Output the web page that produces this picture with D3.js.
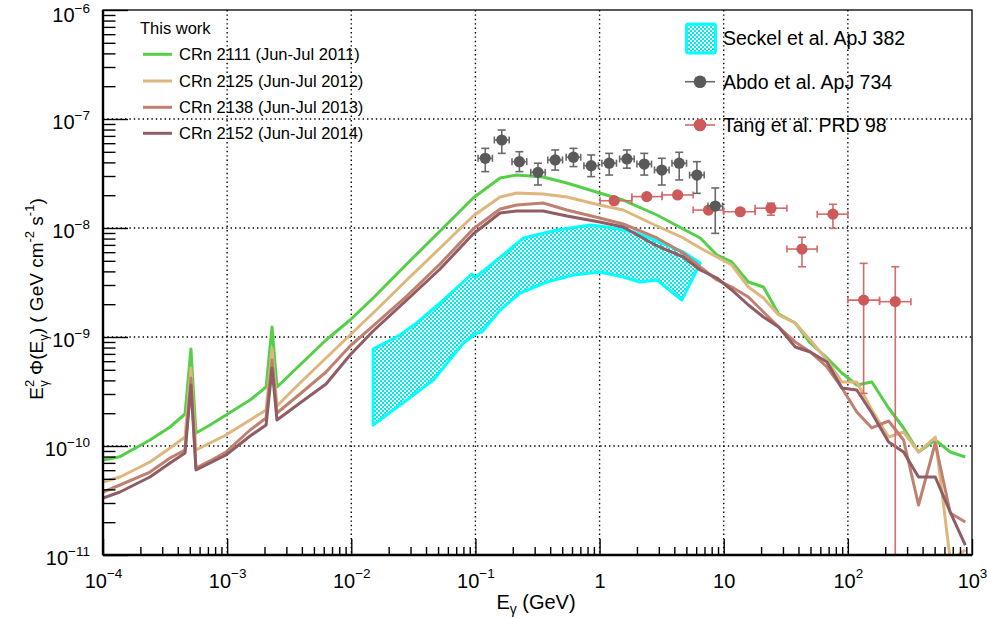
<!DOCTYPE html>
<html><head><meta charset="utf-8">
<script src="https://cdn.jsdelivr.net/npm/d3@7"></script>
<style>
body{margin:0;background:#fff}
svg{display:block}
text{font-family:"Liberation Sans",Arial,Helvetica,sans-serif;fill:#000}
</style>
</head><body>
<svg id="c" width="987" height="619"></svg>
<script>
// ---------------- data ----------------
const energies = [1.0e-4, 1.37e-4, 2.39e-4, 3.47e-4, 4.58e-4, 5.11e-4, 5.61e-4, 7.28e-4, 9.79e-4, 1.53e-3,
  2.06e-3, 2.3e-3, 2.52e-3, 3.86e-3, 6.26e-3, 9.78e-3, 1.5e-2, 2.8e-2, 5.19e-2, 9.58e-2,
  0.158, 0.215, 0.351, 0.545, 1.0, 1.55, 2.90, 4.72, 6.47, 8.82,
  11.6, 15.8, 20.9, 27.7, 37.7, 49.8, 67.9, 89.6, 118, 156,
  213, 281, 371, 506, 668, 883];
const crn2111 = [7.44e-11, 7.98e-11, 1.135e-10, 1.494e-10, 1.966e-10, 7.76e-10, 1.316e-10, 1.558e-10, 1.924e-10, 2.642e-10,
  3.478e-10, 1.235e-9, 3.478e-10, 5.535e-10, 9.39e-10, 1.432e-9, 2.279e-9, 4.675e-9, 9.39e-9, 1.884e-8,
  2.875e-8, 3.063e-8, 2.937e-8, 2.587e-8, 2.095e-8, 1.806e-8, 1.316e-8, 9.79e-9, 8.10e-9, 5.65e-9,
  4.88e-9, 3.196e-9, 2.875e-9, 1.626e-9, 1.344e-9, 8.81e-10, 6.42e-10, 4.675e-10, 3.627e-10, 3.865e-10,
  2.232e-10, 1.463e-10, 8.81e-11, 1.135e-10, 8.81e-11, 7.93e-11];
const crn2125 = [4.675e-11, 5.195e-11, 7.13e-11, 9.59e-11, 1.209e-10, 5.195e-10, 9.19e-11, 1.065e-10, 1.261e-10, 1.732e-10,
  2.14e-10, 7.76e-10, 2.328e-10, 3.784e-10, 6.42e-10, 1.043e-9, 1.66e-9, 3.334e-9, 6.55e-9, 1.288e-8,
  1.924e-8, 2.095e-8, 2.051e-8, 1.924e-8, 1.626e-8, 1.463e-8, 1.043e-8, 8.10e-9, 6.55e-9, 5.42e-9,
  4.578e-9, 2.875e-9, 2.279e-9, 1.591e-9, 1.344e-9, 9.39e-10, 6.15e-10, 3.865e-10, 3.865e-10, 2.14e-10,
  1.209e-10, 1.344e-10, 8.81e-11, 1.209e-10, 9.0e-12, 1.111e-11];
const crn2138 = [3.784e-11, 4.387e-11, 5.77e-11, 7.76e-11, 9.19e-11, 4.206e-10, 6.28e-11, 7.29e-11, 8.81e-11, 1.402e-10,
  1.806e-10, 6.15e-10, 2.008e-10, 3.0e-10, 4.776e-10, 8.27e-10, 1.262e-9, 2.377e-9, 4.675e-9, 9.79e-9,
  1.494e-8, 1.626e-8, 1.696e-8, 1.463e-8, 1.235e-8, 1.088e-8, 8.10e-9, 5.90e-9, 4.387e-9, 3.334e-9,
  2.875e-9, 2.328e-9, 1.696e-9, 1.235e-9, 9.0e-10, 7.29e-10, 5.305e-10, 3.405e-10, 2.051e-10, 1.463e-10,
  1.696e-10, 1.135e-10, 2.875e-11, 1.065e-10, 2.428e-11, 2.008e-11];
const crn2152 = [3.334e-11, 3.784e-11, 5.195e-11, 6.98e-11, 8.63e-11, 3.627e-10, 6.02e-11, 6.98e-11, 8.27e-11, 1.235e-10,
  1.558e-10, 5.195e-10, 1.732e-10, 2.48e-10, 3.705e-10, 6.84e-10, 1.135e-9, 2.185e-9, 4.206e-9, 8.81e-9,
  1.373e-8, 1.432e-8, 1.432e-8, 1.288e-8, 1.135e-8, 1.021e-8, 6.84e-9, 5.42e-9, 4.118e-9, 3.478e-9,
  2.70e-9, 1.966e-9, 1.526e-9, 1.235e-9, 8.10e-10, 7.29e-10, 5.90e-10, 3.405e-10, 3.264e-10, 2.008e-10,
  1.088e-10, 8.81e-11, 5.195e-11, 5.195e-11, 2.48e-11, 1.235e-11];
const seriesNames = ["CRn 2111 (Jun-Jul 2011)", "CRn 2125 (Jun-Jul 2012)", "CRn 2138 (Jun-Jul 2013)", "CRn 2152 (Jun-Jul 2014)"];
const seriesColors = ["#55cf48", "#dfb77e", "#c0806f", "#8f5d63"];

// Seckel et al. band
const seckelUpperE = [1.50e-2, 2.47e-2, 3.37e-2, 5.19e-2, 9.35e-2, 0.101, 0.149, 0.244, 0.453, 0.848, 1.145, 1.875, 3.08, 4.74, 6.47];
const seckelUpper  = [7.76e-10, 1.043e-9, 1.344e-9, 2.051e-9, 3.784e-9, 3.55e-9, 5.09e-9, 8.10e-9, 9.59e-9, 1.065e-8, 1.021e-8, 9.19e-9, 7.44e-9, 6.02e-9, 4.776e-9];
const seckelLowerE = [1.50e-2, 2.47e-2, 4.59e-2, 8.0e-2, 0.1026, 0.1126, 0.158, 0.229, 0.376, 0.616, 1.0, 1.557, 2.12, 2.90, 4.60];
const seckelLower  = [1.558e-10, 2.377e-10, 4.03e-10, 8.81e-10, 1.088e-9, 1.111e-9, 1.769e-9, 2.533e-9, 3.196e-9, 3.705e-9, 3.947e-9, 3.55e-9, 3.196e-9, 3.334e-9, 2.185e-9];

// Abdo et al. ApJ 734
const abdoE      = [0.120, 0.163, 0.226, 0.319, 0.439, 0.616, 0.856, 1.195, 1.66, 2.29, 3.17, 4.38, 6.08, 8.55];
const abdoELo    = [0.105, 0.142, 0.197, 0.279, 0.383, 0.538, 0.748, 1.044, 1.45, 2.00, 2.77, 3.83, 5.31, 7.47];
const abdoEHi    = [0.137, 0.187, 0.259, 0.365, 0.503, 0.705, 0.980, 1.368, 1.90, 2.62, 3.63, 5.02, 6.96, 9.79];
const abdoFlux   = [4.36e-8, 6.42e-8, 4.06e-8, 3.24e-8, 4.21e-8, 4.46e-8, 3.73e-8, 3.93e-8, 4.30e-8, 3.86e-8, 3.40e-8, 3.93e-8, 3.06e-8, 1.59e-8];
const abdoFluxLo = [3.29e-8, 4.84e-8, 3.29e-8, 2.48e-8, 3.40e-8, 3.66e-8, 2.96e-8, 3.06e-8, 3.54e-8, 3.06e-8, 2.48e-8, 2.76e-8, 2.08e-8, 8.93e-9];
const abdoFluxHi = [5.38e-8, 7.92e-8, 5.01e-8, 3.93e-8, 5.20e-8, 5.38e-8, 4.68e-8, 4.84e-8, 5.20e-8, 4.84e-8, 4.36e-8, 4.95e-8, 4.06e-8, 2.33e-8];

// Tang et al. PRD 98
const tangE      = [1.31, 2.40, 4.25, 7.54, 13.6, 24.0, 42.7, 75.8, 134, 241];
const tangELo    = [1.01, 1.82, 3.19, 5.67, 9.96, 17.9, 32.3, 56.6, 100, 180];
const tangEHi    = [1.82, 3.19, 5.67, 9.96, 17.9, 32.3, 56.6, 100, 180, 322];
const tangFlux   = [1.78e-8, 1.94e-8, 2.01e-8, 1.46e-8, 1.41e-8, 1.52e-8, 6.41e-9, 1.34e-8, 2.18e-9, 2.11e-9];
const tangFluxLo = [1.70e-8, 1.85e-8, 1.92e-8, 1.39e-8, 1.34e-8, 1.31e-8, 4.41e-9, 9.93e-9, 3.04e-10, 1e-12];
const tangFluxHi = [1.86e-8, 2.03e-8, 2.10e-8, 1.53e-8, 1.48e-8, 1.69e-8, 8.22e-9, 1.65e-8, 4.74e-9, 4.41e-9];

// axis ticks
const xTickValues = [1e-4, 1e-3, 1e-2, 1e-1, 1, 10, 1e2, 1e3];
const xTickLabels = [["10","−4"],["10","−3"],["10","−2"],["10","−1"],["1",""],["10",""],["10","2"],["10","3"]];
const yTickValues = [1e-11, 1e-10, 1e-9, 1e-8, 1e-7, 1e-6];
const yTickLabels = [["10","−11"],["10","−10"],["10","−9"],["10","−8"],["10","−7"],["10","−6"]];

// ---------------- drawing ----------------
const M = {l:103, r:972, t:10, b:555};
const x = d3.scaleLog().domain([1e-4, 1e3]).range([M.l, M.r]);
const y = d3.scaleLog().domain([1e-11, 1e-6]).range([M.b, M.t]);
const svg = d3.select("#c");
const defs = svg.append("defs");
defs.append("clipPath").attr("id","clip").append("rect")
  .attr("x",M.l).attr("y",M.t).attr("width",M.r-M.l).attr("height",M.b-M.t);
const pat = defs.append("pattern").attr("id","dots").attr("patternUnits","userSpaceOnUse")
  .attr("width",4).attr("height",4);
pat.append("rect").attr("width",4).attr("height",4).attr("fill","#ffffff");
pat.append("rect").attr("width",2).attr("height",2).attr("fill","#00eaea");
pat.append("rect").attr("x",2).attr("y",2).attr("width",2).attr("height",2).attr("fill","#00eaea");

// grid
const gridX = [1e-3,1e-2,1e-1,1,10,100];
const gridY = [1e-10,1e-9,1e-8,1e-7];
const grid = svg.append("g").attr("stroke","#000").attr("stroke-width",1.4).attr("stroke-dasharray","1.4 3");
grid.selectAll("line.gx").data(gridX).join("line").attr("x1",d=>x(d)).attr("x2",d=>x(d)).attr("y1",M.t).attr("y2",M.b);
grid.selectAll("line.gy").data(gridY).join("line").attr("y1",d=>y(d)).attr("y2",d=>y(d)).attr("x1",M.l).attr("x2",M.r);

const plot = svg.append("g").attr("clip-path","url(#clip)");

// Seckel band
const bandPts = seckelUpperE.map((e,i)=>[x(e), y(seckelUpper[i])])
  .concat(seckelLowerE.map((e,i)=>[x(e), y(seckelLower[i])]).reverse());
plot.append("path").attr("d", d3.line()(bandPts) + "Z")
  .attr("fill","url(#dots)").attr("stroke","#00ffff").attr("stroke-width",3).attr("stroke-linejoin","round");

// model curves
const allSeries = [crn2111, crn2125, crn2138, crn2152];
const line = d3.line().x(d=>x(d[0])).y(d=>y(d[1]));
allSeries.forEach((s,k)=>{
  plot.append("path").attr("d", line(energies.map((e,i)=>[e, s[i]])))
    .attr("fill","none").attr("stroke",seriesColors[k]).attr("stroke-width",3).attr("stroke-linejoin","round");
});

// points with error bars
function drawPoints(E, F, ELo, EHi, FLo, FHi, col, barCol){
  const g = plot.append("g");
  E.forEach((e,i)=>{
    const cx = x(e), cy = y(F[i]);
    const gg = g.append("g").attr("stroke",barCol).attr("stroke-width",1.6);
    gg.append("line").attr("x1",x(ELo[i])).attr("x2",x(EHi[i])).attr("y1",cy).attr("y2",cy);
    gg.append("line").attr("x1",x(ELo[i])).attr("x2",x(ELo[i])).attr("y1",cy-3.5).attr("y2",cy+3.5);
    gg.append("line").attr("x1",x(EHi[i])).attr("x2",x(EHi[i])).attr("y1",cy-3.5).attr("y2",cy+3.5);
    const yl = Math.min(y(FLo[i]), M.b+5), yh = y(FHi[i]);
    gg.append("line").attr("x1",cx).attr("x2",cx).attr("y1",yh).attr("y2",yl);
    gg.append("line").attr("x1",cx-4).attr("x2",cx+4).attr("y1",yh).attr("y2",yh);
    gg.append("line").attr("x1",cx-4).attr("x2",cx+4).attr("y1",yl).attr("y2",yl);
    g.append("circle").attr("cx",cx).attr("cy",cy).attr("r",5.6).attr("fill",col);
  });
}
drawPoints(tangE, tangFlux, tangELo, tangEHi, tangFluxLo, tangFluxHi, "#cd5a5a", "#d46a6a");
drawPoints(abdoE, abdoFlux, abdoELo, abdoEHi, abdoFluxLo, abdoFluxHi, "#5a5a5a", "#6a6a6a");

// axes (ticks inside)
const minorX = [], minorY = [];
for (let p=-4;p<3;p++) for (let k=2;k<10;k++) minorX.push(k*Math.pow(10,p));
for (let p=-11;p<-6;p++) for (let k=2;k<10;k++) minorY.push(k*Math.pow(10,p));

const xMinor = svg.append("g").attr("transform",`translate(0,${M.b})`)
  .call(d3.axisBottom(x).tickValues(minorX).tickSize(-8).tickFormat(""));
const xMajor = svg.append("g").attr("transform",`translate(0,${M.b})`)
  .call(d3.axisBottom(x).tickValues(xTickValues).tickSize(-16).tickSizeOuter(0).tickFormat(""));
const yMinor = svg.append("g").attr("transform",`translate(${M.l},0)`)
  .call(d3.axisLeft(y).tickValues(minorY).tickSize(-12.5).tickFormat(""));
const yMajor = svg.append("g").attr("transform",`translate(${M.l},0)`)
  .call(d3.axisLeft(y).tickValues(yTickValues).tickSize(-25).tickSizeOuter(0).tickFormat(""));
[xMinor,xMajor,yMinor,yMajor].forEach(g=>{
  g.selectAll("path.domain").remove();
  g.selectAll(".tick line").attr("stroke","#000").attr("stroke-width",1.4);
});

// frame
svg.append("rect").attr("x",M.l).attr("y",M.t).attr("width",M.r-M.l).attr("height",M.b-M.t)
  .attr("fill","none").attr("stroke","#000").attr("stroke-width",1.3);
svg.append("line").attr("x1",M.l).attr("x2",M.r).attr("y1",M.b).attr("y2",M.b).attr("stroke","#000").attr("stroke-width",2.4);
svg.append("line").attr("x1",M.l).attr("x2",M.l).attr("y1",M.t).attr("y2",M.b).attr("stroke","#000").attr("stroke-width",2.4);

// tick labels
const FS = 20, SFS = 13.5;
xMajor.selectAll(".tick").each(function(d,i){
  const lab = xTickLabels[i];
  const t = d3.select(this).append("text").attr("x",0).attr("y",33).attr("text-anchor","middle")
    .attr("font-size",FS).attr("stroke","none");
  t.append("tspan").text(lab[0]);
  if (lab[1]) t.append("tspan").attr("font-size",SFS).attr("dy",-10).text(lab[1]);
});
yMajor.selectAll(".tick").each(function(d,i){
  const lab = yTickLabels[i];
  const t = d3.select(this).append("text").attr("x",-13).attr("y",d===1e-6?11:9).attr("text-anchor","end")
    .attr("font-size",FS).attr("stroke","none");
  t.append("tspan").text(lab[0]);
  t.append("tspan").attr("font-size",SFS).attr("dy",-9).text(lab[1]);
});

// axis titles
const xt = svg.append("text").attr("x",536).attr("y",609).attr("text-anchor","middle").attr("font-size",20);
xt.append("tspan").text("E");
xt.append("tspan").attr("font-size",14).attr("dy",5).text("γ");
xt.append("tspan").attr("dy",-5).text(" (GeV)");

const yt = svg.append("text").attr("transform","translate(43,299) rotate(-90)").attr("text-anchor","middle").attr("font-size",19);
yt.append("tspan").text("E");
yt.append("tspan").attr("font-size",13).attr("dy",-9).text("2");
yt.append("tspan").attr("font-size",13).attr("dx",-7).attr("dy",14).text("γ");
yt.append("tspan").attr("dy",-5).text(" Φ(E");
yt.append("tspan").attr("font-size",13).attr("dy",5).text("γ");
yt.append("tspan").attr("dy",-5).text(") ( GeV cm");
yt.append("tspan").attr("font-size",13).attr("dy",-9).text("-2");
yt.append("tspan").attr("dy",9).text(" s");
yt.append("tspan").attr("font-size",13).attr("dy",-9).text("-1");
yt.append("tspan").attr("dy",9).text(")");

// left legend
svg.append("text").attr("x",140).attr("y",34).attr("font-size",16.5).text("This work");
const legY = [54.3, 81, 107.3, 133.3];
seriesNames.forEach((n,k)=>{
  svg.append("line").attr("x1",143).attr("x2",172).attr("y1",legY[k]).attr("y2",legY[k])
    .attr("stroke",seriesColors[k]).attr("stroke-width",3);
  svg.append("text").attr("x",179).attr("y",legY[k]+6).attr("font-size",16.5).text(n);
});

// right legend
svg.append("rect").attr("x",686.5).attr("y",24).attr("width",29).attr("height",29).attr("rx",2)
  .attr("fill","url(#dots)").attr("stroke","#00ffff").attr("stroke-width",3);
svg.append("text").attr("x",723).attr("y",44.5).attr("font-size",19.5).text("Seckel et al. ApJ 382");
[[81.7,"#5a5a5a","#6a6a6a","Abdo et al. ApJ 734"],[125,"#cd5a5a","#d46a6a","Tang et al. PRD 98"]].forEach(r=>{
  svg.append("line").attr("x1",685).attr("x2",715).attr("y1",r[0]).attr("y2",r[0]).attr("stroke",r[2]).attr("stroke-width",1.6);
  svg.append("circle").attr("cx",700).attr("cy",r[0]).attr("r",6.3).attr("fill",r[1]);
  svg.append("text").attr("x",723).attr("y",r[0]+7).attr("font-size",19.5).text(r[3]);
});
</script>
</body></html>
